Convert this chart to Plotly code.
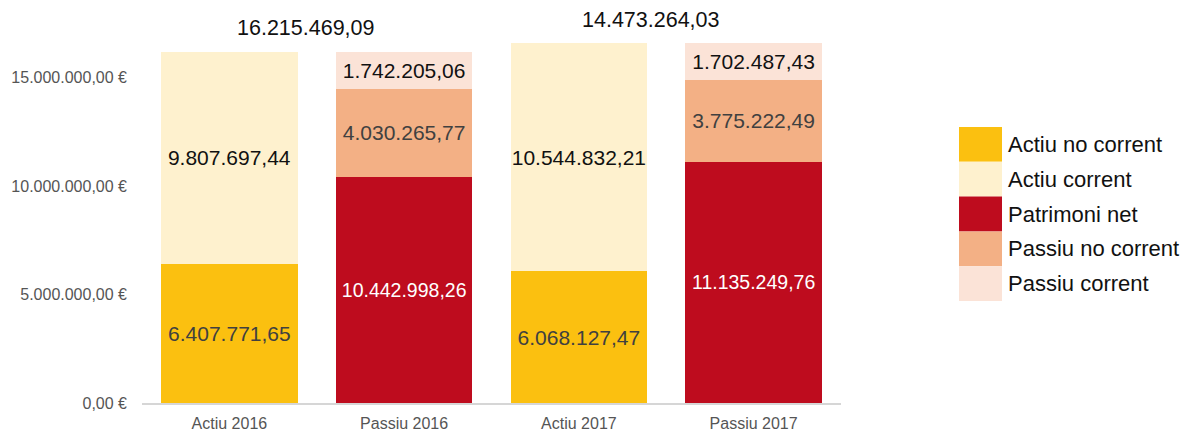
import plotly.graph_objects as go

categories = ["Actiu 2016", "Passiu 2016", "Actiu 2017", "Passiu 2017"]

actiu_no_corrent = [6407771.65, None, 6068127.47, None]
actiu_corrent = [9807697.44, None, 10544832.21, None]
patrimoni_net = [None, 10442998.26, None, 11135249.76]
passiu_no_corrent = [None, 4030265.77, None, 3775222.49]
passiu_corrent = [None, 1742205.06, None, 1702487.43]

total_labels = [16215469.09, 14473264.03]

y_tick_vals = [0, 5000000, 10000000, 15000000]
y_tick_text = ["0,00 €", "5.000.000,00 €", "10.000.000,00 €", "15.000.000,00 €"]

series_names = ["Actiu no corrent", "Actiu corrent", "Patrimoni net",
                "Passiu no corrent", "Passiu corrent"]
series_values = [actiu_no_corrent, actiu_corrent, patrimoni_net,
                 passiu_no_corrent, passiu_corrent]
colors = ["#FBC010", "#FEF1CE", "#BE0C1E", "#F3B085", "#FBE3D7"]
text_colors = ["#404040", "#111111", "#FFFFFF", "#404040", "#111111"]
text_sizes = [21, 21, 19.5, 21, 21]

FONT = "Liberation Sans, Arial, Helvetica, sans-serif"


def fmt(v):
    if v is None:
        return ""
    s = f"{v:,.2f}"
    return s.replace(",", "X").replace(".", ",").replace("X", ".")


fig = go.Figure()
for name, vals, col, tcol, tsz in zip(series_names, series_values, colors,
                                      text_colors, text_sizes):
    fig.add_trace(go.Bar(
        name=name, x=categories, y=vals, marker=dict(color=col, line=dict(width=0)),
        text=[fmt(v) for v in vals], textposition="inside", insidetextanchor="middle",
        textangle=0, constraintext="none",
        textfont=dict(family=FONT, size=tsz, color=tcol),
        hoverinfo="skip", showlegend=False,
    ))

W, H = 1181, 431
ml, mr, mt, mb = 142, 340, 28, 28
pw, ph = W - ml - mr, H - mt - mb


def px_x(x):
    return (x - ml) / pw


def px_y(y):
    return (H - mb - y) / ph


# totals above pairs
total_pos = [(0.44, px_y(28)), (2.41, px_y(20))]
for val, (xp, yp) in zip(total_labels, total_pos):
    fig.add_annotation(x=xp, y=yp, xref="x", yref="paper", text=fmt(val),
                       showarrow=False, xanchor="center", yanchor="middle",
                       font=dict(family=FONT, size=21.5, color="#111111"))

# custom legend
top = 127
step = 34.8
for i, (name, col) in enumerate(zip(series_names, colors)):
    y0 = top + i * step
    fig.add_shape(type="rect", xref="paper", yref="paper",
                  x0=px_x(959), x1=px_x(1002), y0=px_y(y0 + step), y1=px_y(y0),
                  fillcolor=col, line=dict(width=0), layer="above")
    fig.add_annotation(x=px_x(1006), y=px_y(y0 + step / 2), xref="paper", yref="paper",
                       text=name, showarrow=False, xanchor="left", yanchor="middle",
                       font=dict(family=FONT, size=22, color="#111111"))

fig.update_layout(
    template="none",
    width=W, height=H,
    margin=dict(l=ml, r=mr, t=mt, b=mb, pad=0, autoexpand=False),
    barmode="stack", bargap=0.22,
    plot_bgcolor="white", paper_bgcolor="white",
    font=dict(family=FONT),
    xaxis=dict(showgrid=False, showline=True, linecolor="#D6D6D6", linewidth=2,
               ticks="", tickfont=dict(size=16, color="#555555"), automargin=False,
               ticklabelstandoff=5, zeroline=False),
    yaxis=dict(range=[0, 17.3e6], showgrid=False, zeroline=False, showline=False,
               tickvals=y_tick_vals, ticktext=y_tick_text, ticks="", automargin=False,
               tickfont=dict(size=16, color="#555555"), ticklabelstandoff=14),
)

fig.write_html("out.html",
               config={"displayModeBar": False},
               post_script="document.body.style.margin='0';"
                           "document.body.style.overflow='hidden';")
